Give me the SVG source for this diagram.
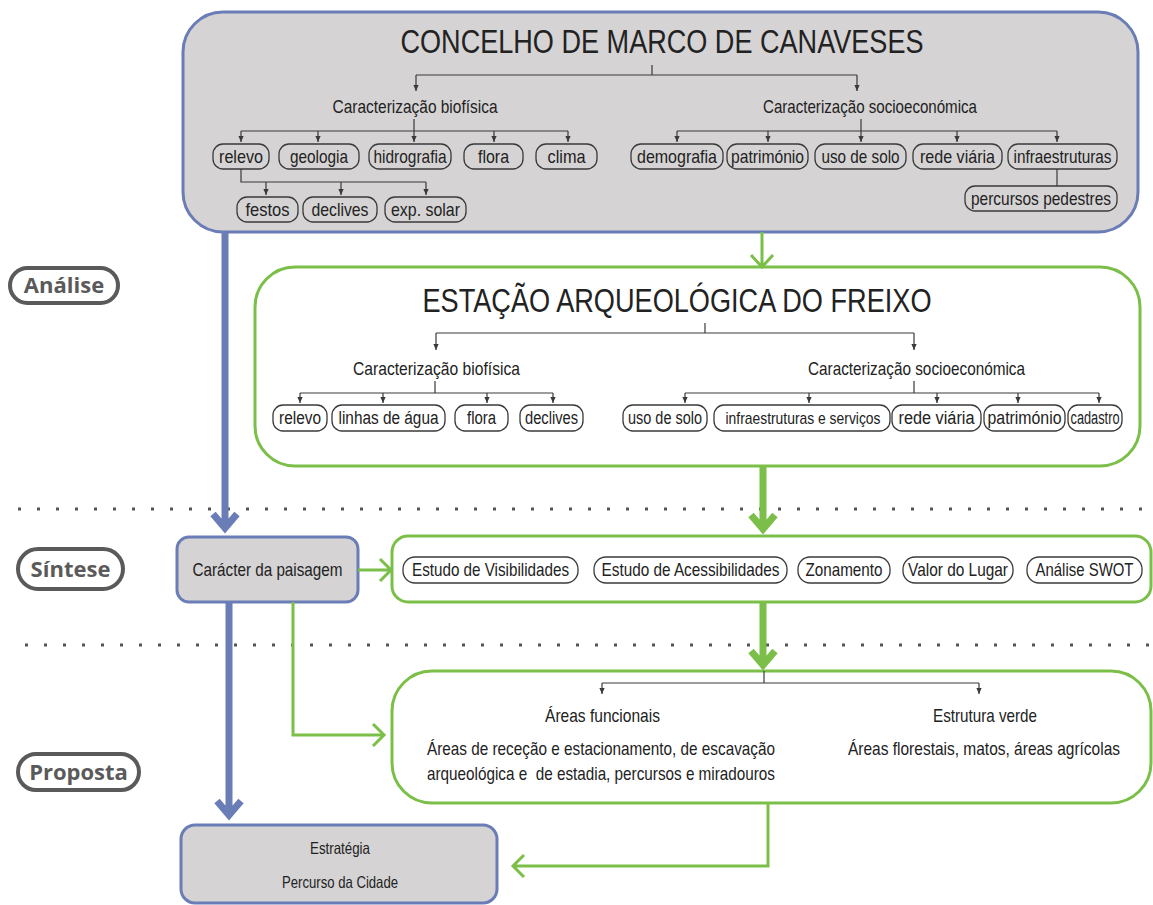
<svg xmlns="http://www.w3.org/2000/svg" width="1153" height="905" viewBox="0 0 1153 905">
<defs>
<style>
.t{font-family:"Liberation Sans Narrow","Arial Narrow","Liberation Sans",sans-serif;fill:#222}
.title{font-size:33px}
.h{font-size:19px}
.p{font-size:19px}
.p2{font-size:18px}
.p3{font-size:17px}
.s{font-size:16.5px}
.pill{fill:none;stroke:#3a3a3a;stroke-width:1.3}
.gbox{fill:#d5d3d4;stroke:#6a7db6;stroke-width:3}
.wbox{fill:#fff;stroke:#7bbf49;stroke-width:3}
.lbl{fill:#fff;stroke:#5a5a5a;stroke-width:4}
.lt{font-family:"Open Sans","Noto Sans",sans-serif;font-weight:bold;font-size:22px;fill:#5a5a5a}
.c{fill:none;stroke:#3a3a3a;stroke-width:1.2}
.ca{fill:none;stroke:#3a3a3a;stroke-width:1.2;marker-end:url(#ah)}
.ga{fill:none;stroke:#7bbf49;stroke-width:3}
.gt{fill:none;stroke:#7bbf49;stroke-width:7}
.bt{fill:none;stroke:#6a7db6;stroke-width:7}
.dots{fill:none;stroke:#555;stroke-width:3;stroke-dasharray:3 16}
</style>
<marker id="ah" viewBox="0 0 8 8" refX="8" refY="4" markerWidth="6" markerHeight="6" markerUnits="userSpaceOnUse" orient="auto">
<path d="M0,0.5 L8,4 L0,7.5 z" fill="#3a3a3a"/>
</marker>
</defs>

<g id="separators">
<line class="dots" x1="18" y1="509" x2="1153" y2="509"/>
<line class="dots" x1="25" y1="645" x2="1153" y2="645"/>
</g>

<g id="phase-analise"><rect class="lbl" x="10" y="268" width="108" height="35" rx="17.5"/><text class="lt" x="64" y="293" text-anchor="middle">Análise</text></g>
<g id="phase-sintese"><rect class="lbl" x="18" y="549" width="105" height="40" rx="20"/><text class="lt" x="70.5" y="577" text-anchor="middle">Síntese</text></g>
<g id="phase-proposta"><rect class="lbl" x="18" y="754" width="121" height="36" rx="18"/><text class="lt" x="78.5" y="780" text-anchor="middle">Proposta</text></g>

<g id="concelho">
<rect class="gbox" x="183" y="12" width="955" height="220" rx="40"/>
<text class="t title" x="662" y="53" text-anchor="middle" textLength="523" lengthAdjust="spacingAndGlyphs">CONCELHO DE MARCO DE CANAVESES</text>
<text class="t h" x="415" y="113" text-anchor="middle" textLength="165" lengthAdjust="spacingAndGlyphs">Caracterização biofísica</text>
<text class="t h" x="870" y="113" text-anchor="middle" textLength="214" lengthAdjust="spacingAndGlyphs">Caracterização socioeconómica</text>
</g>
<g id="c-relevo"><rect class="pill" x="213" y="144" width="56" height="25" rx="10"/><text class="t p" x="241" y="163" text-anchor="middle" textLength="44" lengthAdjust="spacingAndGlyphs">relevo</text></g>
<g id="c-geologia"><rect class="pill" x="279" y="144" width="80" height="25" rx="10"/><text class="t p" x="319" y="163" text-anchor="middle" textLength="58" lengthAdjust="spacingAndGlyphs">geologia</text></g>
<g id="c-hidrografia"><rect class="pill" x="369" y="144" width="82" height="25" rx="10"/><text class="t p" x="410" y="163" text-anchor="middle" textLength="73" lengthAdjust="spacingAndGlyphs">hidrografia</text></g>
<g id="c-flora"><rect class="pill" x="464" y="144" width="59" height="25" rx="10"/><text class="t p" x="493.5" y="163" text-anchor="middle" textLength="31" lengthAdjust="spacingAndGlyphs">flora</text></g>
<g id="c-clima"><rect class="pill" x="536" y="144" width="61" height="25" rx="10"/><text class="t p" x="566.5" y="163" text-anchor="middle" textLength="38" lengthAdjust="spacingAndGlyphs">clima</text></g>
<g id="c-festos"><rect class="pill" x="237" y="197" width="61" height="25" rx="10"/><text class="t p" x="267.5" y="216" text-anchor="middle" textLength="44" lengthAdjust="spacingAndGlyphs">festos</text></g>
<g id="c-declives"><rect class="pill" x="303" y="197" width="74" height="25" rx="10"/><text class="t p" x="340" y="216" text-anchor="middle" textLength="57" lengthAdjust="spacingAndGlyphs">declives</text></g>
<g id="c-exp"><rect class="pill" x="385" y="197" width="81" height="25" rx="10"/><text class="t p" x="425.5" y="216" text-anchor="middle" textLength="69" lengthAdjust="spacingAndGlyphs">exp. solar</text></g>
<g id="c-demografia"><rect class="pill" x="631" y="144" width="92" height="25" rx="10"/><text class="t p" x="677" y="163" text-anchor="middle" textLength="80" lengthAdjust="spacingAndGlyphs">demografia</text></g>
<g id="c-patrimonio"><rect class="pill" x="727" y="144" width="81" height="25" rx="10"/><text class="t p" x="767.5" y="163" text-anchor="middle" textLength="73" lengthAdjust="spacingAndGlyphs">património</text></g>
<g id="c-usosolo"><rect class="pill" x="815" y="144" width="91" height="25" rx="10"/><text class="t p" x="860.5" y="163" text-anchor="middle" textLength="78" lengthAdjust="spacingAndGlyphs">uso de solo</text></g>
<g id="c-redeviaria"><rect class="pill" x="913" y="144" width="89" height="25" rx="10"/><text class="t p" x="957.5" y="163" text-anchor="middle" textLength="75" lengthAdjust="spacingAndGlyphs">rede viária</text></g>
<g id="c-infra"><rect class="pill" x="1008" y="144" width="109" height="25" rx="10"/><text class="t p" x="1062.5" y="163" text-anchor="middle" textLength="98" lengthAdjust="spacingAndGlyphs">infraestruturas</text></g>
<g id="c-percursos"><rect class="pill" x="965" y="186" width="152" height="25" rx="10"/><text class="t p" x="1041" y="205" text-anchor="middle" textLength="140" lengthAdjust="spacingAndGlyphs">percursos pedestres</text></g>

<g id="freixo">
<rect class="wbox" x="255" y="267" width="885" height="199" rx="40"/>
<text class="t title" x="677" y="312" text-anchor="middle" textLength="509" lengthAdjust="spacingAndGlyphs">ESTAÇÃO ARQUEOLÓGICA DO FREIXO</text>
<text class="t h" x="436.5" y="375" text-anchor="middle" textLength="167" lengthAdjust="spacingAndGlyphs">Caracterização biofísica</text>
<text class="t h" x="916.5" y="375" text-anchor="middle" textLength="217" lengthAdjust="spacingAndGlyphs">Caracterização socioeconómica</text>
</g>
<g id="f-relevo"><rect class="pill" x="273" y="405" width="54" height="26" rx="10"/><text class="t p2" x="300" y="424" text-anchor="middle" textLength="42" lengthAdjust="spacingAndGlyphs">relevo</text></g>
<g id="f-linhas"><rect class="pill" x="332" y="405" width="113" height="26" rx="10"/><text class="t p2" x="388.5" y="424" text-anchor="middle" textLength="100" lengthAdjust="spacingAndGlyphs">linhas de água</text></g>
<g id="f-flora"><rect class="pill" x="455" y="405" width="53" height="26" rx="10"/><text class="t p2" x="481.5" y="424" text-anchor="middle" textLength="29" lengthAdjust="spacingAndGlyphs">flora</text></g>
<g id="f-declives"><rect class="pill" x="520" y="405" width="63" height="26" rx="10"/><text class="t p2" x="551.5" y="424" text-anchor="middle" textLength="53" lengthAdjust="spacingAndGlyphs">declives</text></g>
<g id="f-usosolo"><rect class="pill" x="623" y="405" width="84" height="26" rx="10"/><text class="t p2" x="665" y="424" text-anchor="middle" textLength="74" lengthAdjust="spacingAndGlyphs">uso de solo</text></g>
<g id="f-infra"><rect class="pill" x="714" y="405" width="176" height="26" rx="10"/><text class="t p3" x="803" y="424" text-anchor="middle" textLength="155" lengthAdjust="spacingAndGlyphs">infraestruturas e serviços</text></g>
<g id="f-redeviaria"><rect class="pill" x="892" y="405" width="89" height="26" rx="10"/><text class="t p2" x="936.5" y="424" text-anchor="middle" textLength="76" lengthAdjust="spacingAndGlyphs">rede viária</text></g>
<g id="f-patrimonio"><rect class="pill" x="984" y="405" width="81" height="26" rx="10"/><text class="t p2" x="1024.5" y="424" text-anchor="middle" textLength="74" lengthAdjust="spacingAndGlyphs">património</text></g>
<g id="f-cadastro"><rect class="pill" x="1068" y="405" width="54" height="26" rx="10"/><text class="t p2" x="1095" y="424" text-anchor="middle" textLength="49" lengthAdjust="spacingAndGlyphs">cadastro</text></g>

<g id="caracter">
<rect class="gbox" x="177" y="537" width="181" height="65" rx="12"/>
<text class="t h" x="267.5" y="576" text-anchor="middle" textLength="150" lengthAdjust="spacingAndGlyphs">Carácter da paisagem</text>
</g>

<g id="sintese">
<rect class="wbox" x="392" y="536" width="759" height="66" rx="16"/>
</g>
<g id="s-visib"><rect class="pill" x="403" y="557" width="175" height="26" rx="12"/><text class="t p" x="490.5" y="576" text-anchor="middle" textLength="157" lengthAdjust="spacingAndGlyphs">Estudo de Visibilidades</text></g>
<g id="s-acess"><rect class="pill" x="594" y="557" width="193" height="26" rx="12"/><text class="t p" x="690.5" y="576" text-anchor="middle" textLength="178" lengthAdjust="spacingAndGlyphs">Estudo de Acessibilidades</text></g>
<g id="s-zon"><rect class="pill" x="798" y="557" width="92" height="26" rx="12"/><text class="t p" x="844" y="576" text-anchor="middle" textLength="77" lengthAdjust="spacingAndGlyphs">Zonamento</text></g>
<g id="s-valor"><rect class="pill" x="903" y="557" width="110" height="26" rx="12"/><text class="t p" x="958" y="576" text-anchor="middle" textLength="100" lengthAdjust="spacingAndGlyphs">Valor do Lugar</text></g>
<g id="s-swot"><rect class="pill" x="1027" y="557" width="115" height="26" rx="12"/><text class="t p" x="1084.5" y="576" text-anchor="middle" textLength="98" lengthAdjust="spacingAndGlyphs">Análise SWOT</text></g>

<g id="proposta">
<rect class="wbox" x="392" y="671" width="759" height="132" rx="40"/>
<text class="t h" x="602.5" y="722" text-anchor="middle" textLength="115" lengthAdjust="spacingAndGlyphs">Áreas funcionais</text>
<text class="t h" x="601" y="755" text-anchor="middle" textLength="348" lengthAdjust="spacingAndGlyphs">Áreas de receção e estacionamento, de escavação</text>
<text class="t h" x="601" y="780" text-anchor="middle" xml:space="preserve" textLength="348" lengthAdjust="spacingAndGlyphs">arqueológica e  de estadia, percursos e miradouros</text>
<text class="t h" x="985" y="722" text-anchor="middle" textLength="104" lengthAdjust="spacingAndGlyphs">Estrutura verde</text>
<text class="t h" x="984" y="755" text-anchor="middle" textLength="272" lengthAdjust="spacingAndGlyphs">Áreas florestais, matos, áreas agrícolas</text>
</g>

<g id="estrategia">
<rect class="gbox" x="181" y="825" width="316" height="78" rx="14"/>
<text class="t s" x="340" y="854" text-anchor="middle" textLength="60" lengthAdjust="spacingAndGlyphs">Estratégia</text>
<text class="t s" x="340" y="888" text-anchor="middle" textLength="116" lengthAdjust="spacingAndGlyphs">Percurso da Cidade</text>
</g>

<g id="connectors">
<path class="c" d="M652,65 V75 M416,75 H857"/>
<path class="ca" d="M416,75 V91"/>
<path class="ca" d="M857,75 V91"/>
<path class="c" d="M414,119 V131 M241,131 H568"/>
<path class="ca" d="M241,131 V142"/><path class="ca" d="M318,131 V142"/><path class="ca" d="M414,131 V142"/><path class="ca" d="M494,131 V142"/><path class="ca" d="M568,131 V142"/>
<path class="c" d="M241,169 V182 H426"/>
<path class="ca" d="M266,182 V195"/><path class="ca" d="M341,182 V195"/><path class="ca" d="M426,182 V195"/>
<path class="c" d="M861,119 V131 M677,131 H1057"/>
<path class="ca" d="M677,131 V142"/><path class="ca" d="M768,131 V142"/><path class="ca" d="M861,131 V142"/><path class="ca" d="M957,131 V142"/><path class="ca" d="M1057,131 V142"/>
<path class="c" d="M1057,169 V186"/>

<path class="c" d="M705,323 V333 M436,333 H914"/>
<path class="ca" d="M436,333 V350"/><path class="ca" d="M914,333 V350"/>
<path class="c" d="M435,381 V393 M300,393 H553"/>
<path class="ca" d="M300,393 V403"/><path class="ca" d="M383,393 V403"/><path class="ca" d="M487,393 V403"/><path class="ca" d="M553,393 V403"/>
<path class="c" d="M914,381 V393 M685,393 H1099"/>
<path class="ca" d="M685,393 V403"/><path class="ca" d="M809,393 V403"/><path class="ca" d="M937,393 V403"/><path class="ca" d="M1018,393 V403"/><path class="ca" d="M1099,393 V403"/>

<path class="c" d="M764,671 V683 M602,683 H979"/>
<path class="ca" d="M602,683 V694"/><path class="ca" d="M979,683 V694"/>

<path class="ga" d="M762,232 V267 M751,255 L762,267 L773,255"/>
<path class="gt" d="M763,466 V526 M751,515 L763,529 L775,515"/>
<path class="gt" d="M763,602 V662 M751,651 L763,665 L775,651"/>
<path class="bt" d="M225,232 V526 M213,514 L225,528 L237,514"/>
<path class="bt" d="M229,602 V812 M217,801 L229,815 L241,801"/>
<path class="ga" d="M358,570 H390 M380,559 L391,570 L380,581"/>
<path class="ga" d="M293,602 V735 H384 M373,724 L384,735 L373,746"/>
<path class="ga" d="M768,803 V866 H513 M524,855 L513,866 L524,877"/>
</g>
</svg>
